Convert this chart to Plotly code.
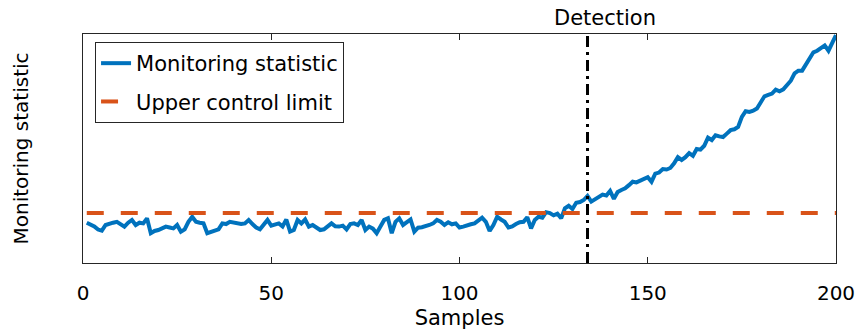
import plotly.graph_objects as go

# Monitoring statistic per sample (samples 1..200)
samples = list(range(1, 201))
statistic = [
    17.6, 17.0, 16.0, 14.6, 14.1, 16.6, 17.3, 17.6, 18.0, 17.0,
    15.9, 17.6, 18.8, 16.6, 17.6, 17.3, 19.5, 13.0, 14.0, 14.4,
    15.1, 15.9, 15.5, 15.1, 16.6, 13.7, 14.7, 18.0, 20.2, 18.0,
    17.6, 17.3, 13.0, 13.7, 14.4, 14.7, 17.3, 17.0, 18.0, 17.6,
    17.0, 17.0, 17.3, 18.8, 17.0, 15.5, 14.7, 16.6, 18.8, 16.3,
    16.6, 17.3, 16.0, 19.0, 13.7, 14.4, 18.8, 17.3, 19.0, 15.9,
    16.6, 15.5, 14.4, 14.7, 15.9, 17.3, 16.0, 15.9, 16.3, 14.7,
    17.0, 17.3, 16.6, 18.8, 14.4, 15.9, 15.0, 13.0, 15.9, 18.8,
    19.5, 13.0, 18.0, 19.5, 16.6, 18.0, 19.0, 13.7, 15.4, 15.6,
    15.9, 16.6, 17.3, 18.8, 18.0, 16.6, 17.8, 16.9, 17.3, 15.5,
    15.9, 16.6, 16.9, 17.3, 18.5, 19.8, 18.0, 14.0, 16.6, 20.2,
    19.0, 18.0, 15.5, 16.0, 17.0, 17.8, 18.0, 20.0, 15.1, 18.8,
    20.2, 19.8, 22.2, 21.8, 20.8, 21.5, 19.5, 23.9, 25.0, 23.6,
    26.3, 26.6, 27.5, 29.3, 26.8, 27.8, 28.8, 29.9, 29.5, 31.5,
    28.0, 31.0, 31.9, 32.6, 34.0, 35.5, 35.2, 36.0, 36.5, 37.5,
    35.5, 39.0, 39.5, 41.0, 40.8, 41.5, 43.5, 46.2, 45.0, 46.2,
    48.0, 46.8, 49.8, 49.5, 51.2, 54.7, 53.7, 55.8, 55.3, 55.0,
    56.5, 58.0, 58.4, 59.4, 63.8, 66.3, 66.0, 66.5, 67.5, 70.0,
    72.8, 73.4, 74.0, 75.7, 75.0, 75.8, 77.5, 79.6, 82.8, 84.0,
    84.0, 86.5, 89.3, 92.0, 92.7, 93.8, 95.0, 92.7, 96.5, 99.5,
]
control_limit = 21.8
detection_sample = 134
x_ticks = [0, 50, 100, 150, 200]

BLUE = "#0072BD"
ORANGE = "#D95319"
AXIS = "#262626"
FONT = "DejaVu Sans"

fig = go.Figure()
fig.add_trace(go.Scatter(
    x=samples, y=statistic, mode="lines", name="Monitoring statistic",
    line=dict(color=BLUE, width=4), legendgroup="a",
))
fig.add_trace(go.Scatter(
    x=[samples[0], samples[-1]], y=[control_limit, control_limit], mode="lines",
    name="Upper control limit", legendgroup="b",
    line=dict(color=ORANGE, width=4, dash="17px,17px"),
))
fig.add_trace(go.Scatter(
    x=[detection_sample, detection_sample], y=[0, 100], mode="lines",
    showlegend=False, line=dict(color="black", width=3, dash="11px,5px,3px,5px"),
))

fig.add_annotation(
    x=detection_sample, y=1, xref="x", yref="paper", text="Detection",
    showarrow=False, yanchor="bottom", xanchor="center", xshift=17, yshift=2,
    font=dict(family=FONT, size=21, color="black"),
)

fig.update_layout(
    width=858, height=336,
    margin=dict(l=83, r=22, t=34, b=73),
    paper_bgcolor="white", plot_bgcolor="white",
    font=dict(family=FONT, size=20, color="black"),
    showlegend=True,
    legend=dict(
        x=0.016, y=0.965, xanchor="left", yanchor="top",
        bgcolor="white", bordercolor=AXIS, borderwidth=1,
        font=dict(family=FONT, size=21, color="black"),
        tracegroupgap=8, traceorder="grouped",
    ),
)
fig.update_xaxes(
    range=[0, 200], tickvals=x_ticks, ticks="inside", ticklen=6, tickcolor=AXIS,
    showline=True, linecolor=AXIS, linewidth=1, mirror="ticks",
    showgrid=False, zeroline=False, automargin=False,
    tickfont=dict(family=FONT, size=20), ticklabelstandoff=12,
    title=dict(text="Samples", standoff=6, font=dict(family=FONT, size=21)),
)
fig.update_yaxes(
    range=[0, 100], showticklabels=False, ticks="",
    showline=True, linecolor=AXIS, linewidth=1, mirror=True,
    showgrid=False, zeroline=False, automargin=False,
    title=dict(text="Monitoring statistic", standoff=48, font=dict(family=FONT, size=20)),
)

fig.write_html("out.html")
